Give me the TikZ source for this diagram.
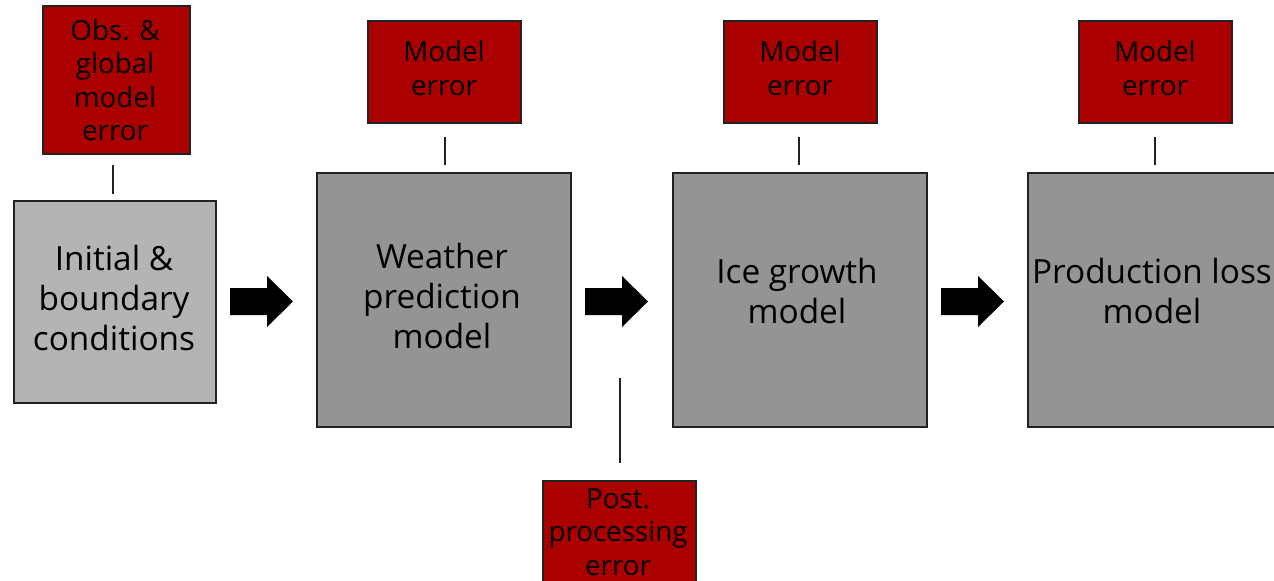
\documentclass[tikz,border=0pt]{standalone}
\usepackage{fontspec}
\setmainfont{Open Sans}
\definecolor{errred}{HTML}{AA0000}
\definecolor{lightbox}{HTML}{B4B4B4}
\definecolor{darkbox}{HTML}{949494}
\definecolor{edge}{HTML}{222222}
\begin{document}
\begin{tikzpicture}[x=0.75pt,y=-0.75pt,
  box/.style={draw=edge,line width=1.5pt,inner sep=0pt,anchor=north west},
  errbox/.style={box,fill=errred},
  bigtxt/.style={align=center,font=\fontsize{25}{30}\selectfont,inner sep=0pt},
  smalltxt/.style={align=center,font=\fontsize{20.8}{25}\selectfont,inner sep=0pt},
  link/.style={draw=edge,line width=1.1pt},
  flow/.style={fill=black,draw=none}]
\useasboundingbox (0,0) rectangle (1274,581);
\clip (0,0) rectangle (1274,581);
% red error boxes
\node[errbox,minimum width=147*0.75pt,minimum height=148*0.75pt] (obs) at (42,5) {};
\node[errbox,minimum width=153*0.75pt,minimum height=102*0.75pt] (me1) at (367,20) {};
\node[errbox,minimum width=153*0.75pt,minimum height=102*0.75pt] (me2) at (723,20) {};
\node[errbox,minimum width=153*0.75pt,minimum height=102*0.75pt] (me3) at (1078,20) {};
\node[errbox,minimum width=153*0.75pt,minimum height=130*0.75pt] (post) at (542,480) {};
% grey model boxes
\node[box,fill=lightbox,minimum width=202*0.75pt,minimum height=202*0.75pt] (init) at (13,200) {};
\node[box,fill=darkbox,minimum width=254*0.75pt,minimum height=254*0.75pt] (wx) at (316,172) {};
\node[box,fill=darkbox,minimum width=254*0.75pt,minimum height=254*0.75pt] (ice) at (672,172) {};
\node[box,fill=darkbox,minimum width=254*0.75pt,minimum height=254*0.75pt] (prod) at (1027,172) {};
% texts
\node[smalltxt] (tobs) at (115,80) {Obs. \&\\global\\model\\error};
\node[smalltxt] (tme1) at (444,68) {Model\\error};
\node[smalltxt] (tme2) at (800,68) {Model\\error};
\node[smalltxt] (tme3) at (1155,68) {Model\\error};
\node[smalltxt] (tpost) at (618,532) {Post.\\processing\\error};
\node[bigtxt] (tinit) at (114,298) {Initial \&\\boundary\\conditions};
\node[bigtxt] (twx) at (442,296) {Weather\\prediction\\model};
\node[bigtxt] (tice) at (797,291) {Ice growth\\model};
\node[bigtxt] (tprod) at (1152,291) {Production loss\\model};
% block arrows
\coordinate (a1) at (230,301.5);
\coordinate (a2) at (585,301.5);
\coordinate (a3) at (941,301.5);
\foreach \a in {a1,a2,a3}
  \fill[flow] (\a) ++(0,-13.5) -- ++(37,0) -- ++(0,-12) -- ++(26,25.5)
     -- ++(-26,25.5) -- ++(0,-12) -- ++(-37,0) -- cycle;
% connectors
\coordinate (ptop) at (620,378);
\draw[link,shorten <=10*0.75pt,shorten >=6*0.75pt] (obs.south -| 113,0) -- (init.north -| 113,0);
\draw[link,shorten <=13*0.75pt,shorten >=7*0.75pt] (me1.south -| 445,0) -- (wx.north -| 445,0);
\draw[link,shorten <=13*0.75pt,shorten >=7*0.75pt] (me2.south -| 799,0) -- (ice.north -| 799,0);
\draw[link,shorten <=13*0.75pt,shorten >=7*0.75pt] (me3.south -| 1155,0) -- (prod.north -| 1155,0);
\draw[link,shorten <=17*0.75pt] (post.north -| ptop) -- (ptop);
\end{tikzpicture}
\end{document}
